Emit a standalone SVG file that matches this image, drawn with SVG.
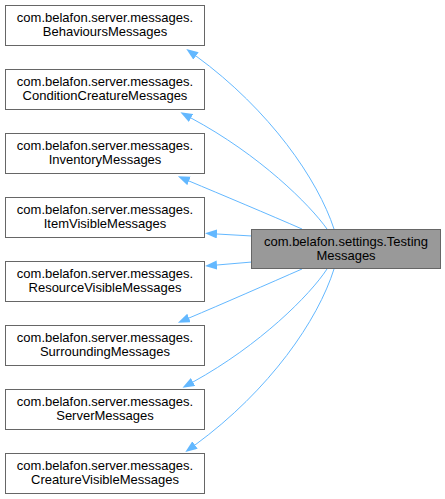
<svg xmlns="http://www.w3.org/2000/svg" width="445" height="499" viewBox="0 0 445 499">
<defs>
<style>
.box{fill:#ffffff;stroke:#666666;stroke-width:1}
.main{fill:#999999;stroke:#666666;stroke-width:1}
text{font-family:"Liberation Sans",Arial,sans-serif;font-size:13px;fill:#000000;text-anchor:middle}
.edge{fill:none;stroke:#63b8ff;stroke-width:1;marker-end:url(#ah)}
</style>
<marker id="ah" markerUnits="userSpaceOnUse" markerWidth="13" markerHeight="10" refX="0" refY="4.5" orient="auto">
<path d="M0,0 L12,4.5 L0,9 z" fill="#63b8ff"/>
</marker>
</defs>
<rect width="445" height="499" fill="#ffffff"/>
<g id="edges">
<path class="edge" d="M334,229 C318,180 270,110 196,56"/>
<path class="edge" d="M327,229 C310,205 260,155 191,118"/>
<path class="edge" d="M302,229 C270,215 220,194 189,181"/>
<path class="edge" d="M252,236 L217,234"/>
<path class="edge" d="M252,262 L217,265"/>
<path class="edge" d="M302,269 C270,283 220,305 189,318"/>
<path class="edge" d="M327,269 C310,295 260,345 193,382"/>
<path class="edge" d="M334,269 C318,320 270,390 195,445"/>
</g>
<g id="target">
<rect class="main" x="251.5" y="229.5" width="189" height="39"/>
<text x="346" y="246">com.belafon.settings.Testing</text>
<text x="346" y="260">Messages</text>
</g>
<g id="n1">
<rect class="box" x="5.5" y="5.5" width="199" height="40"/>
<text x="105" y="22">com.belafon.server.messages.</text>
<text x="105" y="36">BehavioursMessages</text>
</g>
<g id="n2">
<rect class="box" x="5.5" y="69.5" width="199" height="40"/>
<text x="105" y="86">com.belafon.server.messages.</text>
<text x="105" y="100">ConditionCreatureMessages</text>
</g>
<g id="n3">
<rect class="box" x="5.5" y="133.5" width="199" height="40"/>
<text x="105" y="150">com.belafon.server.messages.</text>
<text x="105" y="164">InventoryMessages</text>
</g>
<g id="n4">
<rect class="box" x="5.5" y="197.5" width="199" height="40"/>
<text x="105" y="214">com.belafon.server.messages.</text>
<text x="105" y="228">ItemVisibleMessages</text>
</g>
<g id="n5">
<rect class="box" x="5.5" y="261.5" width="199" height="40"/>
<text x="105" y="278">com.belafon.server.messages.</text>
<text x="105" y="292">ResourceVisibleMessages</text>
</g>
<g id="n6">
<rect class="box" x="5.5" y="325.5" width="199" height="40"/>
<text x="105" y="342">com.belafon.server.messages.</text>
<text x="105" y="356">SurroundingMessages</text>
</g>
<g id="n7">
<rect class="box" x="5.5" y="389.5" width="199" height="40"/>
<text x="105" y="406">com.belafon.server.messages.</text>
<text x="105" y="420">ServerMessages</text>
</g>
<g id="n8">
<rect class="box" x="5.5" y="453.5" width="199" height="40"/>
<text x="105" y="470">com.belafon.server.messages.</text>
<text x="105" y="484">CreatureVisibleMessages</text>
</g>
</svg>
